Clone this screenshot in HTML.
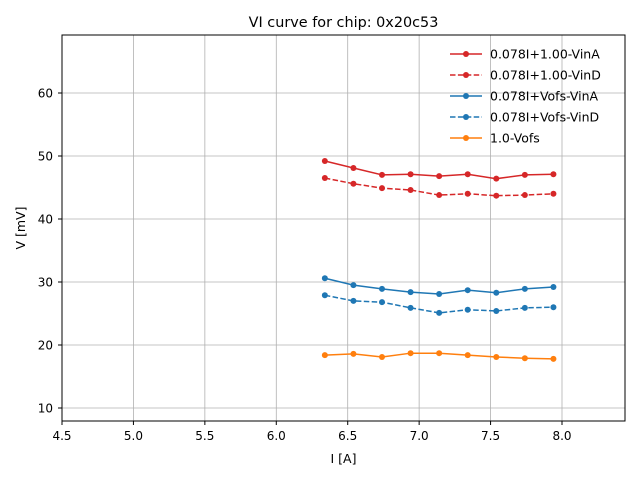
<!DOCTYPE html>
<html><head><meta charset="utf-8"><style>
body{margin:0;background:#fff;}
svg text{font-family:"DejaVu Sans","Liberation Sans",sans-serif;fill:#000;}
</style></head><body>
<svg id="c" width="640" height="480" xmlns="http://www.w3.org/2000/svg">
<rect width="640" height="480" fill="#fff"/>
<g id="grid"></g><g id="ticks"></g><g id="series"></g>
<rect x="62" y="35" width="563" height="386" fill="none" stroke="#000" stroke-width="1"/>
<text x="343.5" y="27" font-size="14.4" text-anchor="middle">VI curve for chip: 0x20c53</text>
<text x="343.5" y="463" font-size="12.5" text-anchor="middle">I [A]</text>
<text x="25" y="228" font-size="12.5" text-anchor="middle" transform="rotate(-90 25 228)">V [mV]</text>
<g id="legend"></g>
</svg>
<script>
const xData=[6.34,6.54,6.74,6.94,7.14,7.34,7.54,7.74,7.94];
const redA=[49.2,48.1,47.0,47.1,46.8,47.1,46.4,47.0,47.1];
const redD=[46.5,45.6,44.9,44.6,43.8,44.0,43.7,43.8,44.0];
const blueA=[30.6,29.5,28.9,28.4,28.1,28.7,28.3,28.9,29.2];
const blueD=[27.9,27.0,26.8,25.9,25.1,25.6,25.4,25.9,26.0];
const orange=[18.4,18.6,18.1,18.7,18.7,18.4,18.1,17.9,17.8];
const xTicks=[4.5,5.0,5.5,6.0,6.5,7.0,7.5,8.0];
const xTickLabels=["4.5","5.0","5.5","6.0","6.5","7.0","7.5","8.0"];
const yTicks=[10,20,30,40,50,60];
const seriesNames=["0.078I+1.00-VinA","0.078I+1.00-VinD","0.078I+Vofs-VinA","0.078I+Vofs-VinD","1.0-Vofs"];
const NS="http://www.w3.org/2000/svg";
const X=v=>62+(v-4.5)*(500/3.5);
const Y=v=>408-(v-10)*6.3;
function mk(t,a,p){const e=document.createElementNS(NS,t);for(const k in a)e.setAttribute(k,a[k]);p.appendChild(e);return e;}
const g=document.getElementById('grid'),tk=document.getElementById('ticks'),s=document.getElementById('series'),lg=document.getElementById('legend');
xTicks.forEach((v,i)=>{const x=X(v);
 let l=mk('line',{x1:x,x2:x,y1:35,y2:421,stroke:'#b0b0b0','stroke-width':0.8},g);
 
 mk('line',{x1:x,x2:x,y1:421,y2:425,stroke:'#000','stroke-width':1},tk);
 let t=mk('text',{x:x,y:440,'font-size':12,'text-anchor':'middle'},tk);t.textContent=xTickLabels[i];
 });
yTicks.forEach(v=>{const y=Y(v);
 let l=mk('line',{x1:62,x2:625,y1:y,y2:y,stroke:'#b0b0b0','stroke-width':0.8},g);
 
 mk('line',{x1:58,x2:62,y1:y,y2:y,stroke:'#000','stroke-width':1},tk);
 let t=mk('text',{x:53,y:y+4.3,'font-size':12,'text-anchor':'end'},tk);t.textContent=String(v);
 });
const ser=[[redA,'#d62728',''],[redD,'#d62728','5.5,2.4'],[blueA,'#1f77b4',''],[blueD,'#1f77b4','5.5,2.4'],[orange,'#ff7f0e','']];
ser.forEach((sr,i)=>{const [d,c,da]=sr;
 const gg=mk('g',{},s);
 mk('polyline',{points:d.map((v,j)=>X(xData[j])+','+Y(v)).join(' '),fill:'none',stroke:c,'stroke-width':1.5,'stroke-dasharray':da},gg);
 d.forEach((v,j)=>{const p=mk('circle',{cx:X(xData[j]),cy:Y(v),r:3,fill:c},gg);
  });
 const ly=54+i*21;
 const le=mk('g',{},lg);
 mk('line',{x1:450,x2:482,y1:ly,y2:ly,stroke:c,'stroke-width':1.5,'stroke-dasharray':da},le);
 mk('circle',{cx:466,cy:ly,r:3,fill:c},le);
 const t=mk('text',{x:490,y:ly+4.5,'font-size':12.5},le);t.textContent=seriesNames[i];});
</script>
</body></html>
